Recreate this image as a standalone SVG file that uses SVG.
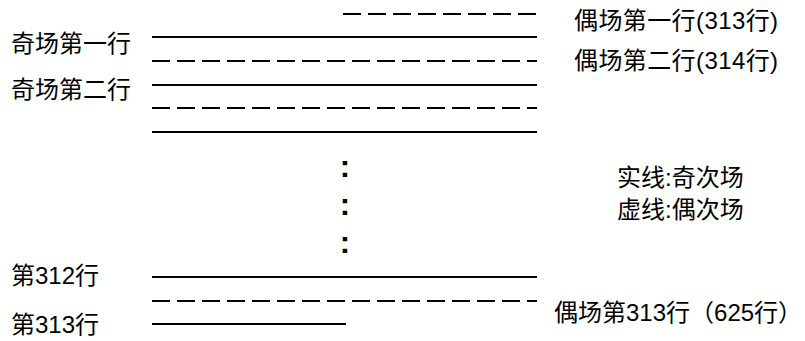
<svg xmlns="http://www.w3.org/2000/svg" width="805" height="341" viewBox="0 0 805 341">
<style>
text { font-family: "Liberation Sans", "Noto Sans CJK SC", sans-serif; font-size: 24px; fill: #000; }
.solid { stroke: #000; stroke-width: 2; fill: none; }
.dash { stroke: #000; stroke-width: 2; fill: none; stroke-dasharray: 18 7; }
.dots { font-size: 31px; font-weight: bold; text-anchor: middle; }
</style>
<rect width="805" height="341" fill="#fff"/>
<g id="connectors">
  <line class="dash" x1="343" y1="14" x2="537" y2="14"/>
  <line class="solid" x1="152" y1="37" x2="537" y2="37"/>
  <line class="dash" x1="152" y1="61" x2="537" y2="61"/>
  <line class="solid" x1="152" y1="85" x2="537" y2="85"/>
  <line class="dash" x1="152" y1="108" x2="537" y2="108"/>
  <line class="solid" x1="152" y1="132" x2="537" y2="132"/>
  <line class="solid" x1="152" y1="277" x2="537" y2="277"/>
  <line class="dash" x1="152" y1="301" x2="537" y2="301"/>
  <line class="solid" x1="152" y1="324" x2="346" y2="324"/>
</g>
<g id="dots">
  <text class="dots" x="345" y="177">:</text>
  <text class="dots" x="345" y="215">:</text>
  <text class="dots" x="345" y="253">:</text>
</g>
<g id="label-odd1"><text x="11" y="52">奇场第一行</text></g>
<g id="label-odd2"><text x="11" y="98">奇场第二行</text></g>
<g id="label-312"><text x="11" y="284">第312行</text></g>
<g id="label-313"><text x="11" y="333">第313行</text></g>
<g id="label-even1"><text x="574" y="29" letter-spacing="0.4">偶场第一行(313行)</text></g>
<g id="label-even2"><text x="574" y="69" letter-spacing="0.4">偶场第二行(314行)</text></g>
<g id="label-even313"><text x="554" y="321">偶场第313行（625行）</text></g>
<g id="legend">
  <text x="617" y="186">实线:奇次场</text>
  <text x="617" y="218">虚线:偶次场</text>
</g>
</svg>
